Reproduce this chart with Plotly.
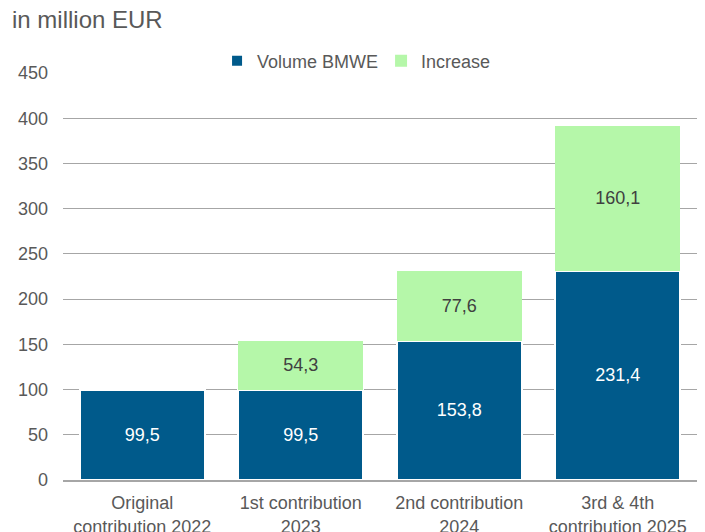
import plotly.graph_objects as go

categories = ["Original<br>contribution 2022", "1st contribution<br>2023",
              "2nd contribution<br>2024", "3rd & 4th<br>contribution 2025"]
volume_bmwe = [99.5, 99.5, 153.8, 231.4]
increase = [None, 54.3, 77.6, 160.1]
y_ticks = [0, 50, 100, 150, 200, 250, 300, 350, 400, 450]

def fmt(v):
    return "" if v is None else f"{v:.1f}".replace(".", ",")

FONT = "Liberation Sans, Arial, sans-serif"
GREY = "#595959"
W, H = 697, 524  # page body has an 8px margin

fig = go.Figure()
fig.add_trace(go.Bar(
    x=categories, y=volume_bmwe, name="Volume BMWE",
    marker=dict(color="#005A8B", line=dict(color="white", width=2)),
    text=[fmt(v) for v in volume_bmwe], textposition="inside",
    insidetextanchor="middle",
    textfont=dict(color="white", size=18, family=FONT),
))
fig.add_trace(go.Bar(
    x=categories, y=increase, name="Increase",
    marker=dict(color="#B5F7A9", line=dict(color="white", width=0)),
    text=[fmt(v) for v in increase], textposition="inside",
    insidetextanchor="middle",
    textfont=dict(color="#404040", size=18, family=FONT),
))

fig.update_layout(
    barmode="stack",
    bargap=0.21,
    width=W, height=H,
    margin=dict(l=55, r=8, t=65, b=52),
    paper_bgcolor="white", plot_bgcolor="white",
    font=dict(family=FONT, color=GREY, size=18),
    title=dict(text="in million EUR", x=4/W, xref="container", xanchor="left",
               y=1 - 12/H, yref="container", yanchor="middle",
               font=dict(size=24, color=GREY, family=FONT), pad=dict(l=0, t=0, b=0)),
    legend=dict(orientation="h", x=0.243, xanchor="left", y=1 + 12/407, yanchor="middle",
                font=dict(size=18, color=GREY, family=FONT),
                entrywidth=119, entrywidthmode="pixels",
                traceorder="normal", itemclick=False, bgcolor="rgba(0,0,0,0)"),
    uniformtext=dict(mode=None),
)
fig.update_yaxes(range=[0, 450], tickvals=y_ticks, showgrid=True,
                 gridcolor="#A6A6A6", gridwidth=1, zeroline=False,
                 ticklabelstandoff=14, tickfont=dict(size=18, color=GREY),
                 showline=False, automargin=False)
fig.update_xaxes(showline=True, linecolor="#A6A6A6", linewidth=1.5,
                 tickfont=dict(size=18, color=GREY), ticks="", automargin=False,
                 ticklabelstandoff=6)

fig.write_html("out.html")
